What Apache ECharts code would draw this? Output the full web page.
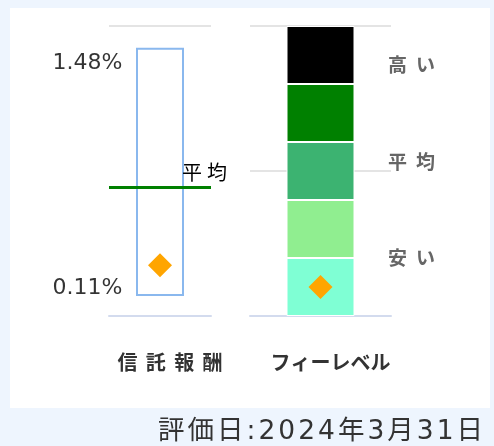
<!DOCTYPE html>
<html>
<head>
<meta charset="utf-8">
<script src="https://cdn.jsdelivr.net/npm/echarts@6/dist/echarts.min.js"></script>
<style>
  html, body { margin: 0; padding: 0; background: #eef5fe; }
  #wrap { position: relative; width: 494px; height: 446px; overflow: hidden; }
  #panel { position: absolute; left: 10px; top: 8px; width: 480px; height: 400px; background: #fff; }
  #chart { position: absolute; left: 0; top: 0; width: 494px; height: 446px; }
  #date {
    position: absolute; right: 8px; top: 414px; line-height: 32px;
    font-family: 'DejaVu Sans', 'Noto Sans CJK JP'; font-size: 26.5px;
    letter-spacing: 3px; color: #333; white-space: nowrap;
  }
</style>
</head>
<body>
<div id="wrap">
  <div id="panel"></div>
  <div id="chart"></div>
  <div id="date"></div>
</div>
<script>
  // 信託報酬 (%)
  const feeCategory = ['信託報酬']
  const feeRange = [0.11, 1.48]     // 最低, 最高
  const feeAverage = 0.71
  const feeFund = 0.28
  const feeAxis = [0, 1.6]

  // フィーレベル
  const levelCategory = ['フィーレベル']
  const levelBands = [1, 1, 1, 1, 1]   // 下から上へ
  const levelFund = 0.5
  const levelAxis = [0, 5]
  const levelLabels = ['安い', '平均', '高い']

  const evalDate = '評価日:2024年3月31日'

  const levelColors = ['#7fffd4', '#90ee90', '#3cb371', '#008000', '#000000']
  const cjk = '"Noto Sans CJK JP", sans-serif'
  const gap = '\u2005\u2006'
  const spaced = (s, g) => s.split('').join(g)

  document.getElementById('date').textContent = evalDate

  const chart = echarts.init(document.getElementById('chart'))

  const baseX = {
    type: 'category',
    axisLine: { lineStyle: { color: '#d3dbee', width: 2 } },
    axisTick: { show: false },
    axisLabel: {
      margin: 36, fontSize: 20, fontWeight: 'bold', color: '#333',
      fontFamily: cjk, padding: [0, 0, 0, 20],
    },
  }
  const baseY = {
    type: 'value',
    axisLine: { show: false },
    axisTick: { show: false },
    axisLabel: { show: false },
    splitLine: { lineStyle: { color: '#e4e4e4', width: 2 } },
  }

  let series = []
  // 信託報酬の箱
  series.push({
    type: 'bar', xAxisIndex: 0, yAxisIndex: 0, stack: 'fee', barWidth: 48, silent: true,
    data: [feeRange[0]],
    itemStyle: { color: 'transparent' },
  })
  series.push({
    type: 'bar', xAxisIndex: 0, yAxisIndex: 0, stack: 'fee', barWidth: 48, silent: true,
    data: [feeRange[1] - feeRange[0]],
    itemStyle: { color: '#fff', borderColor: '#8ab8ee', borderWidth: 2 },
    markLine: {
      silent: true, symbol: 'none',
      data: [{ yAxis: feeAverage }],
      lineStyle: { color: '#008000', width: 3, type: 'solid' },
      label: {
        formatter: spaced('平均', '\u2005'), position: 'insideEndTop', distance: 5,
        offset: [21, 0], color: '#000', fontSize: 20, fontFamily: cjk,
      },
    },
  })
  // 最高・最低の値
  series.push({
    type: 'scatter', xAxisIndex: 0, yAxisIndex: 0, symbolSize: 1, silent: true,
    itemStyle: { color: 'transparent' },
    data: feeRange.map((v, i) => ({
      value: [0, v],
      label: { offset: [0, i === 0 ? -8 : 16] },
    })),
    label: {
      show: true, position: 'left', distance: 37,
      formatter: p => p.value[1].toFixed(2) + '%',
      fontSize: 22, fontFamily: 'DejaVu Sans', color: '#000',
    },
  })
  series.push({
    type: 'scatter', xAxisIndex: 0, yAxisIndex: 0, symbol: 'diamond', symbolSize: 24, z: 5,
    data: [[0, feeFund]], itemStyle: { color: '#ffa500', opacity: 1 },
  })
  // フィーレベル
  for (let i = 0; i < levelBands.length; i++) {
    series.push({
      type: 'bar', xAxisIndex: 1, yAxisIndex: 1, stack: 'level', barWidth: 68, silent: true,
      data: [levelBands[i]],
      itemStyle: { color: levelColors[i], borderColor: '#fff', borderWidth: 1 },
    })
  }
  series.push({
    type: 'scatter', xAxisIndex: 1, yAxisIndex: 1, symbol: 'diamond', symbolSize: 24, z: 5,
    data: [[0, levelFund]], itemStyle: { color: '#ffa500', opacity: 1 },
  })

  const option = {
    animation: false,
    grid: [
      { left: 109, width: 102, top: 26, bottom: 130 },
      { left: 250, width: 141, top: 26, bottom: 130 },
    ],
    xAxis: [
      Object.assign({}, baseX, { gridIndex: 0, data: feeCategory,
        axisLabel: Object.assign({}, baseX.axisLabel, { formatter: v => spaced(v, gap) }) }),
      Object.assign({}, baseX, { gridIndex: 1, data: levelCategory }),
    ],
    yAxis: [
      Object.assign({}, baseY, { gridIndex: 0, min: feeAxis[0], max: feeAxis[1], interval: feeAxis[1] - feeAxis[0] }),
      Object.assign({}, baseY, { gridIndex: 1, min: levelAxis[0], max: levelAxis[1], interval: (levelAxis[1] - levelAxis[0]) / 2 }),
      {
        gridIndex: 1, type: 'category', data: levelLabels, position: 'right',
        axisLine: { show: false }, axisTick: { show: false }, splitLine: { show: false },
        axisLabel: {
          margin: -3, fontSize: 19, fontWeight: 'bold', color: '#666', fontFamily: cjk,
          verticalAlign: 'bottom', lineHeight: 19, formatter: v => spaced(v, gap + '\u200a'),
        },
      },
    ],
    series: series,
  }
  chart.setOption(option)
</script>
</body>
</html>
